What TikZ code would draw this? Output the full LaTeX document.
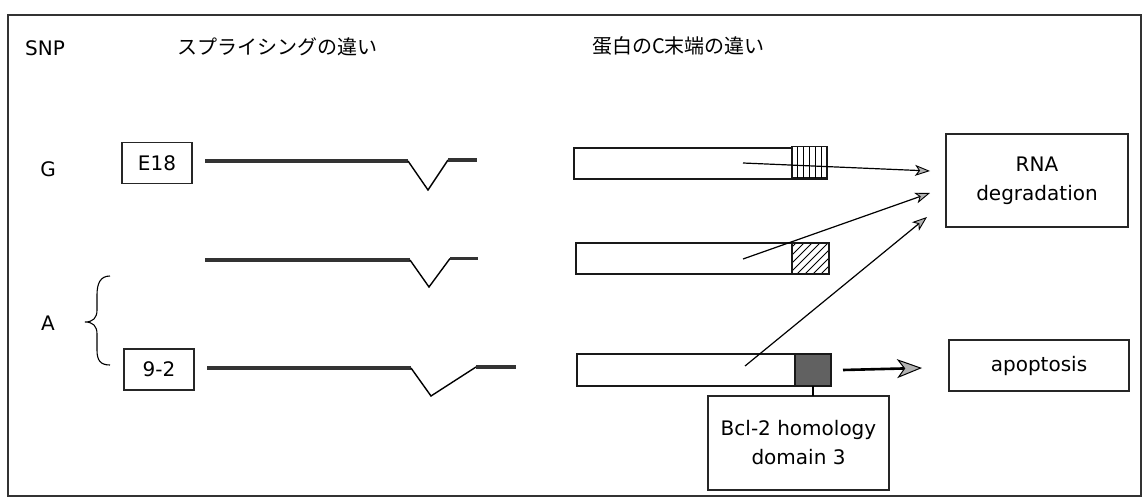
\documentclass[tikz,border=0pt]{standalone}
\usepackage{fontspec}
\setmainfont{DejaVu Sans}
\newfontfamily\jp{Noto Sans CJK JP}
\usetikzlibrary{arrows.meta}
\begin{document}
\begin{tikzpicture}[x=1pt,y=-1pt,
  txt/.style={font=\fontsize{20}{29}\selectfont, inner sep=0pt},
  jptxt/.style={font=\jp\fontsize{20}{24}\selectfont, inner sep=0pt, anchor=west},
  lbox/.style={draw=black!85, line width=1.2pt, inner sep=0pt, outer sep=0pt, align=center, font=\fontsize{20}{29}\selectfont},
  bar/.style={draw=black!90, line width=1.4pt, fill=white, inner sep=0pt, outer sep=0pt},
  gene/.style={line width=3.2pt, draw=black!80},
  splice/.style={line width=1.4pt, draw=black},
  thinarrow/.style={line width=1.2pt, -{Stealth[length=15pt,width=11pt,inset=4pt,fill=gray!60,line width=0.9pt]}},
  thickarrow/.style={line width=2.6pt, -{Stealth[length=25pt,width=19pt,inset=7pt,fill=gray!60,line width=1pt]}}
]
\useasboundingbox (0,0) rectangle (1144,503);
\draw[black!80, line width=1.2pt] (8,15) rectangle (1141,496);

% headings
\node[txt, anchor=west] (snp) at (25,48) {SNP};
\node[jptxt] (h1) at (177,47) {スプライシングの違い};
\node[jptxt] (h2) at (592,46) {蛋白のC末端の違い};

% SNP labels
\node[txt] (g) at (48,169) {G};
\node[txt] (a) at (48,323) {A};
\draw[line width=1.1pt] (110,276) .. controls (100,276) and (97,284) .. (97,295)
  -- (97,310) .. controls (97,318) and (93,322) .. (85,322)
  .. controls (93,322) and (97,326) .. (97,334)
  -- (97,350) .. controls (97,360) and (100,365) .. (110,365);

\node[lbox, minimum width=70pt, minimum height=41pt] (e18) at (157,163) {E18};
\node[lbox, minimum width=70pt, minimum height=41pt] (n92) at (159,369.5) {9-2};

% splicing lines
\draw[gene] (205,161) -- (408,161);
\draw[splice] (408,161) -- (428,190) -- (448,160);
\draw[gene] (448,160) -- (477,160);

\draw[gene] (205,260) -- (410,260);
\draw[splice] (410,260) -- (429,287) -- (450,258.5);
\draw[gene] (450,258.5) -- (478,258.5);

\draw[gene] (207,368) -- (411,368);
\draw[splice] (411,368) -- (431,396) -- (476,367);
\draw[gene] (476,367) -- (516,367);

% protein bars
\node[bar, minimum width=253pt, minimum height=31pt] (b1) at (700.5,163.5) {};
\node[bar, minimum width=35pt, minimum height=31pt] (d1) at (809.5,162) {};
\foreach \i in {1,...,5}
  \draw[line width=0.9pt] ([xshift=\i*5.8pt]d1.south west) -- ([xshift=\i*5.8pt]d1.north west);

\node[bar, minimum width=253pt, minimum height=31pt] (b2) at (702.5,258.5) {};
\node[bar, minimum width=37pt, minimum height=31pt] (d2) at (810.5,258.5) {};
\begin{scope}
  \clip (d2.south west) rectangle (d2.north east);
  \foreach \i in {-35,-27,...,40}
    \draw[line width=0.9pt] ([xshift=\i pt]d2.south west) -- ++(40,-40);
\end{scope}
\draw[black!90, line width=1.4pt] (d2.south west) rectangle (d2.north east);

\node[bar, minimum width=254pt, minimum height=32pt] (b3) at (704,370) {};
\node[bar, fill=black!62, minimum width=36pt, minimum height=32pt] (d3) at (813,370) {};

% outcome boxes
\node[lbox, minimum width=182pt, minimum height=93pt] (rna) at (1037,180.5) {RNA\\degradation};
\node[lbox, minimum width=180pt, minimum height=51pt] (apo) at (1039,365.5) {apoptosis};
\node[lbox, minimum width=181pt, minimum height=94pt] (bcl) at (798.5,443) {Bcl-2 homology\\domain 3};

% connectors
\coordinate (s1) at (743,163);
\coordinate (s2) at (743,259);
\coordinate (s3) at (745,366);
\draw[thinarrow] (s1) -- ([xshift=-16pt,yshift=9.5pt]rna.west);
\draw[thinarrow] (s2) -- ([xshift=-16pt,yshift=-12.5pt]rna.west);
\draw[thinarrow] (s3) -- ([xshift=-19pt,yshift=-36.5pt]rna.west);
\draw[thickarrow] ([xshift=12pt]b3.east) -- ([xshift=-27pt,yshift=-2.5pt]apo.west);
\draw[line width=1.2pt] (d3.south) -- (d3.south |- bcl.north);
\end{tikzpicture}
\end{document}
